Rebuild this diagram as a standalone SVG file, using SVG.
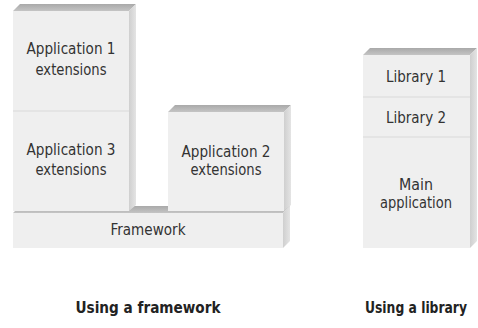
<svg xmlns="http://www.w3.org/2000/svg" width="478" height="328" viewBox="0 0 478 328">
<defs>
<linearGradient id="topg" x1="0" y1="0" x2="0" y2="1">
<stop offset="0" stop-color="#a9a9a9"/>
<stop offset="1" stop-color="#c4c4c4"/>
</linearGradient>
<linearGradient id="sideg" x1="0" y1="0" x2="1" y2="0">
<stop offset="0" stop-color="#cfcfcf"/>
<stop offset="1" stop-color="#e4e4e4"/>
</linearGradient>
</defs>
<style>
.front{fill:#efefef}
.top{fill:url(#topg)}
.side{fill:url(#sideg)}
.div{stroke:#dadada;stroke-width:1.2;fill:none}
.t{font-family:"DejaVu Sans Condensed","DejaVu Sans",sans-serif;font-size:15px;fill:#333;text-anchor:middle}
.b{font-family:"DejaVu Sans Condensed","DejaVu Sans",sans-serif;font-size:15px;font-weight:bold;fill:#222;text-anchor:middle}
</style>
<rect width="478" height="328" fill="#ffffff"/>
<g id="framework">
<polygon class="top" points="13,213 20,206 290,206 283,213"/>
<polygon class="side" points="283,213 290,206 290,241 283,248"/>
<rect class="front" x="13" y="213" width="270" height="35"/>
<text class="t" x="148" y="235" textLength="75" lengthAdjust="spacingAndGlyphs">Framework</text>
</g>
<g id="app13">
<polygon class="top" points="13,11 20,4 136,4 129,11"/>
<polygon class="side" points="129,11 136,4 136,205 129,211"/>
<rect class="front" x="13" y="11" width="116" height="200"/>
<line class="div" x1="13" y1="111" x2="129" y2="111"/>
</g>
<g id="app1">
<text class="t" x="71" y="54" textLength="89" lengthAdjust="spacingAndGlyphs">Application 1</text>
<text class="t" x="71" y="75" textLength="71" lengthAdjust="spacingAndGlyphs">extensions</text>
</g>
<g id="app3">
<text class="t" x="71" y="155" textLength="89" lengthAdjust="spacingAndGlyphs">Application 3</text>
<text class="t" x="71" y="175" textLength="71" lengthAdjust="spacingAndGlyphs">extensions</text>
</g>
<g id="app2">
<polygon class="top" points="168,112 175,105 291,105 284,112"/>
<polygon class="side" points="284,112 291,105 291,205 284,211"/>
<rect class="front" x="168" y="112" width="116" height="99"/>
<text class="t" x="226" y="157" textLength="89" lengthAdjust="spacingAndGlyphs">Application 2</text>
<text class="t" x="226" y="175" textLength="71" lengthAdjust="spacingAndGlyphs">extensions</text>
</g>
<g id="library">
<polygon class="top" points="363,55 370,48 477,48 470,55"/>
<polygon class="side" points="470,55 477,48 477,241 470,248"/>
<rect class="front" x="363" y="55" width="107" height="193"/>
<line class="div" x1="363" y1="97" x2="470" y2="97"/>
<line class="div" x1="363" y1="137" x2="470" y2="137"/>
</g>
<g id="lib1"><text class="t" x="416" y="82" textLength="60" lengthAdjust="spacingAndGlyphs">Library 1</text></g>
<g id="lib2"><text class="t" x="416" y="123" textLength="60" lengthAdjust="spacingAndGlyphs">Library 2</text></g>
<g id="mainapp">
<text class="t" x="416" y="190" textLength="34" lengthAdjust="spacingAndGlyphs">Main</text>
<text class="t" x="416" y="208" textLength="72" lengthAdjust="spacingAndGlyphs">application</text>
</g>
<g id="connectors"></g>
<text class="b" x="148" y="313" textLength="145" lengthAdjust="spacingAndGlyphs">Using a framework</text>
<text class="b" x="416" y="313" textLength="102" lengthAdjust="spacingAndGlyphs">Using a library</text>
</svg>
